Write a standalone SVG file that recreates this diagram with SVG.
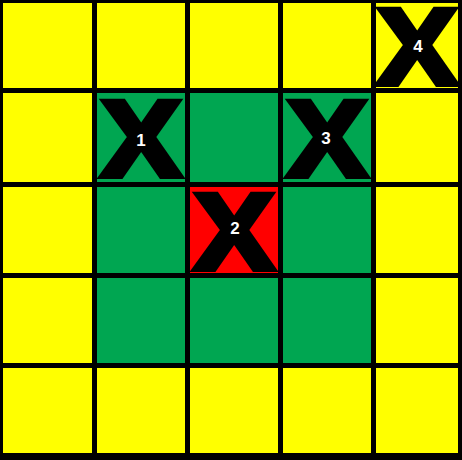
<svg xmlns="http://www.w3.org/2000/svg" width="462" height="460" viewBox="0 0 462 460">
<style>
.y{fill:#FFFF00}
.g{fill:#00A651}
.r{fill:#FF0000}
.x{font-family:"Liberation Sans",Arial,sans-serif;font-weight:bold;font-size:108px;fill:#000;stroke:#000;stroke-width:6;stroke-linejoin:miter;text-anchor:middle}
.n{font-family:"Liberation Sans",Arial,sans-serif;font-weight:bold;font-size:17px;fill:#fff;text-anchor:middle}
</style>
<rect x="0" y="0" width="462" height="460" fill="#000"/>
<g id="grid">
<rect class="y" x="3" y="3" width="89" height="85"/>
<rect class="y" x="97" y="3" width="88" height="85"/>
<rect class="y" x="190" y="3" width="88" height="85"/>
<rect class="y" x="283" y="3" width="88" height="85"/>
<rect class="y" x="376" y="3" width="82" height="85"/>
<rect class="y" x="3" y="93" width="89" height="89"/>
<rect class="g" x="97" y="93" width="88" height="89"/>
<rect class="g" x="190" y="93" width="88" height="89"/>
<rect class="g" x="283" y="93" width="88" height="89"/>
<rect class="y" x="376" y="93" width="82" height="89"/>
<rect class="y" x="3" y="187" width="89" height="86"/>
<rect class="g" x="97" y="187" width="88" height="86"/>
<rect class="r" x="190" y="187" width="88" height="86"/>
<rect class="g" x="283" y="187" width="88" height="86"/>
<rect class="y" x="376" y="187" width="82" height="86"/>
<rect class="y" x="3" y="278" width="89" height="85"/>
<rect class="g" x="97" y="278" width="88" height="85"/>
<rect class="g" x="190" y="278" width="88" height="85"/>
<rect class="g" x="283" y="278" width="88" height="85"/>
<rect class="y" x="376" y="278" width="82" height="85"/>
<rect class="y" x="3" y="368" width="89" height="85"/>
<rect class="y" x="97" y="368" width="88" height="85"/>
<rect class="y" x="190" y="368" width="88" height="85"/>
<rect class="y" x="283" y="368" width="88" height="85"/>
<rect class="y" x="376" y="368" width="82" height="85"/>
</g>
<g id="connectors"></g>
<g id="x1">
<text class="x" transform="translate(141,176) scale(1.1,1)">X</text>
<text class="n" x="141" y="146">1</text>
</g>
<g id="x2">
<text class="x" transform="translate(234,269) scale(1.1,1)">X</text>
<text class="n" x="235" y="234">2</text>
</g>
<g id="x3">
<text class="x" transform="translate(327,176) scale(1.1,1)">X</text>
<text class="n" x="326" y="144">3</text>
</g>
<g id="x4">
<text class="x" transform="translate(417,84) scale(1.1,1)">X</text>
<text class="n" x="418" y="52">4</text>
</g>
</svg>
